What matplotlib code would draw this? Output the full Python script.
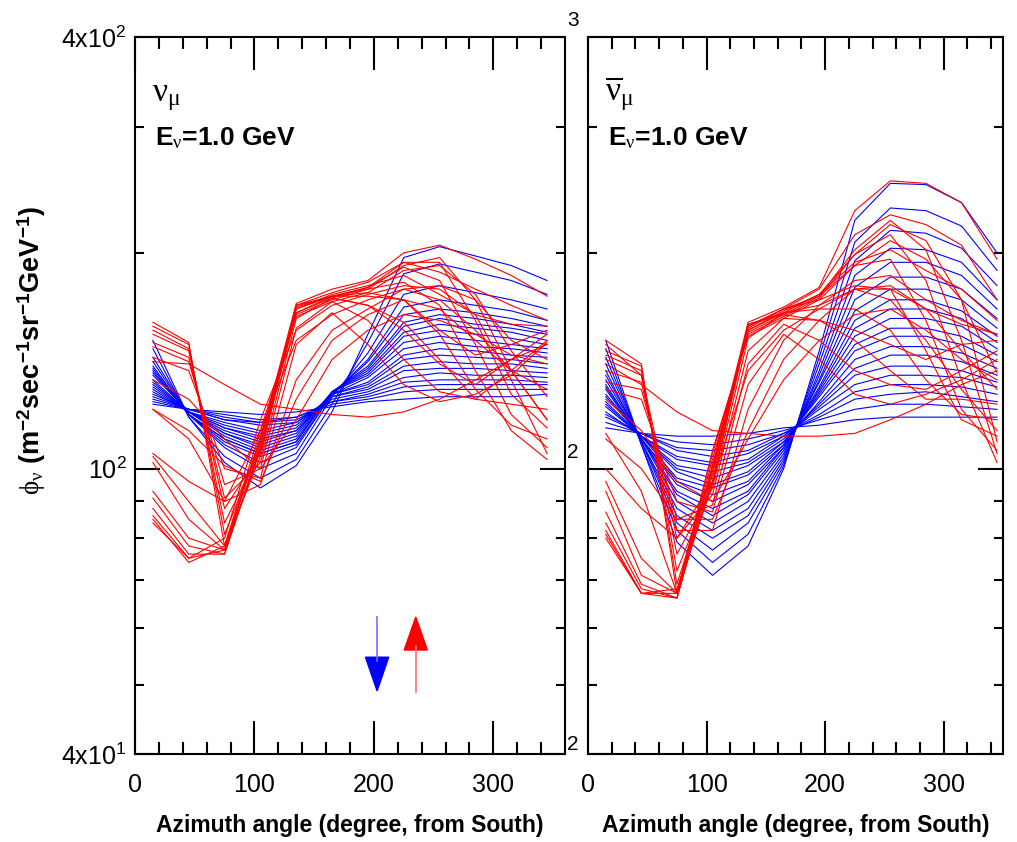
import numpy as np
import matplotlib
matplotlib.use("Agg")
import matplotlib.pyplot as plt
from matplotlib.patches import Polygon
from matplotlib.ticker import FixedLocator, NullFormatter

plt.rcParams['font.family'] = ['Liberation Sans', 'DejaVu Sans']
plt.rcParams['mathtext.fontset'] = 'custom'
plt.rcParams['mathtext.rm'] = 'Liberation Sans'
plt.rcParams['mathtext.bf'] = 'Liberation Sans:bold'
plt.rcParams['mathtext.it'] = 'Liberation Serif'

# Azimuth bin centres (degree, from South)
azimuth = [15, 45, 75, 105, 135, 165, 195, 225, 255, 285, 315, 345]

# nu_mu, downward-going directions (one row per zenith bin)
numu_down = [
    [123, 121, 120, 119, 120, 122, 124, 125, 126, 126, 126, 127],
    [124, 121, 119, 117, 118, 123, 125, 128, 129, 129, 129, 129],
    [125, 121, 118, 116, 118, 124, 126, 130, 131, 131, 131, 131],
    [126, 121, 117, 116, 117, 124, 127, 132, 133, 133, 133, 132],
    [127, 121, 117, 115, 116, 125, 128, 134, 136, 135, 135, 134],
    [128, 120, 116, 113, 116, 126, 129, 137, 138, 138, 137, 136],
    [129, 120, 115, 112, 115, 126, 130, 139, 141, 140, 140, 138],
    [130, 120, 114, 111, 114, 127, 131, 142, 144, 143, 142, 140],
    [131, 120, 114, 110, 113, 127, 132, 144, 147, 146, 144, 143],
    [132, 120, 113, 109, 113, 127, 134, 147, 150, 148, 147, 145],
    [133, 120, 112, 108, 112, 128, 135, 150, 153, 151, 149, 147],
    [135, 120, 112, 107, 111, 128, 136, 153, 156, 154, 152, 149],
    [136, 120, 111, 106, 110, 128, 137, 155, 159, 157, 155, 151],
    [137, 119, 110, 105, 109, 128, 138, 158, 162, 159, 157, 154],
    [138, 119, 110, 105, 109, 128, 139, 160, 164, 162, 159, 155],
    [139, 119, 109, 104, 108, 127, 141, 164, 167, 165, 162, 158],
    [141, 119, 108, 102, 107, 127, 142, 168, 172, 169, 166, 161],
    [143, 119, 107, 100, 105, 126, 145, 175, 180, 176, 172, 167],
    [147, 118, 104, 97, 103, 123, 150, 187, 193, 188, 183, 175],
    [151, 118, 102, 94, 101, 120, 154, 197, 204, 198, 192, 183],
]

# nu_mu, upward-going directions
numu_up = [
    [160, 150, 78, 110, 170, 178, 183, 200, 205, 196, 186, 174],
    [158, 149, 81, 108, 169, 176, 182, 194, 188, 178, 169, 161],
    [156, 147, 84, 106, 167, 175, 180, 186, 175, 164, 159, 158],
    [154, 146, 88, 105, 165, 174, 176, 172, 156, 144, 149, 156],
    [150, 143, 91, 102, 162, 173, 169, 156, 140, 131, 142, 154],
    [148, 141, 95, 100, 157, 171, 161, 142, 128, 125, 137, 151],
    [143, 137, 100, 97, 149, 165, 149, 131, 124, 127, 135, 150],
    [141, 140, 131, 123, 121, 119, 118, 120, 125, 133, 142, 149],
    [121, 110, 90, 95, 133, 156, 167, 178, 180, 172, 151, 142],
    [104, 90, 78, 113, 163, 171, 176, 189, 192, 175, 146, 126],
    [102, 85, 77, 111, 164, 172, 178, 192, 197, 172, 137, 117],
    [93, 80, 77, 110, 165, 173, 179, 194, 194, 161, 127, 114],
    [91, 78, 76, 108, 167, 174, 179, 191, 183, 149, 119, 107],
    [88, 76, 76, 107, 168, 174, 178, 182, 169, 137, 113, 103],
    [86, 75, 77, 106, 169, 174, 174, 172, 154, 129, 115, 110],
    [85, 74, 78, 104, 169, 173, 169, 160, 142, 125, 123, 121],
    [121, 113, 101, 96, 125, 151, 164, 172, 167, 151, 137, 129],
    [133, 125, 110, 100, 117, 142, 156, 164, 161, 154, 144, 140],
    [84, 75, 80, 117, 156, 169, 175, 180, 178, 164, 133, 105],
    [105, 96, 90, 113, 151, 164, 172, 178, 172, 156, 137, 117],
]

# anti-nu_mu, downward-going directions
numubar_down = [
    [114, 112, 111, 111, 112, 114, 115, 117, 118, 118, 118, 118],
    [116, 112, 109, 108, 110, 113, 117, 121, 123, 123, 122, 121],
    [118, 112, 107, 106, 108, 112, 118, 125, 127, 128, 126, 124],
    [119, 112, 106, 104, 106, 112, 119, 128, 131, 131, 130, 127],
    [120, 111, 104, 102, 105, 111, 121, 131, 135, 135, 134, 130],
    [122, 111, 103, 101, 103, 111, 122, 135, 139, 139, 137, 132],
    [123, 111, 101, 99, 102, 110, 123, 138, 144, 144, 141, 135],
    [124, 111, 100, 97, 101, 109, 124, 142, 148, 148, 145, 138],
    [126, 111, 99, 95, 99, 109, 126, 146, 153, 153, 149, 141],
    [127, 111, 97, 94, 98, 108, 127, 149, 157, 157, 153, 144],
    [129, 110, 96, 92, 96, 108, 128, 153, 162, 162, 158, 147],
    [130, 110, 95, 90, 95, 107, 129, 157, 167, 167, 162, 150],
    [131, 110, 93, 88, 93, 107, 130, 161, 172, 172, 166, 153],
    [133, 110, 92, 86, 92, 106, 132, 166, 178, 178, 172, 157],
    [135, 110, 90, 84, 90, 105, 133, 172, 185, 185, 178, 162],
    [137, 109, 88, 82, 88, 104, 135, 179, 194, 194, 186, 167],
    [140, 109, 86, 80, 86, 103, 137, 186, 203, 202, 194, 172],
    [143, 109, 84, 77, 84, 102, 140, 195, 215, 213, 203, 180],
    [147, 108, 82, 74, 81, 101, 143, 207, 231, 229, 218, 189],
    [151, 108, 79, 71, 78, 100, 146, 222, 250, 249, 235, 200],
]

# anti-nu_mu, upward-going directions
numubar_up = [
    [151, 140, 67, 101, 160, 168, 179, 229, 252, 250, 235, 196],
    [146, 139, 69, 99, 158, 167, 178, 212, 226, 219, 205, 172],
    [144, 137, 72, 96, 156, 166, 175, 194, 202, 189, 178, 161],
    [142, 135, 76, 94, 152, 165, 169, 178, 178, 167, 159, 154],
    [137, 132, 80, 92, 146, 162, 161, 156, 149, 142, 149, 151],
    [132, 129, 85, 89, 140, 159, 151, 137, 131, 129, 137, 146],
    [129, 125, 90, 87, 131, 154, 142, 127, 123, 127, 133, 142],
    [140, 131, 120, 113, 112, 111, 111, 112, 117, 123, 131, 137],
    [112, 93, 67, 106, 153, 162, 172, 192, 208, 196, 172, 136],
    [96, 75, 67, 105, 154, 163, 173, 199, 219, 208, 172, 109],
    [93, 71, 67, 103, 155, 164, 174, 202, 222, 202, 151, 105],
    [87, 69, 66, 101, 156, 165, 175, 199, 212, 183, 133, 102],
    [84, 68, 66, 100, 157, 167, 174, 192, 196, 161, 121, 106],
    [82, 67, 66, 98, 158, 167, 172, 180, 178, 146, 117, 111],
    [80, 67, 67, 96, 159, 165, 167, 167, 156, 133, 119, 117],
    [81, 67, 68, 95, 159, 164, 161, 151, 137, 125, 125, 123],
    [110, 100, 85, 85, 113, 142, 161, 178, 180, 167, 146, 129],
    [125, 113, 96, 90, 110, 133, 151, 164, 167, 156, 142, 133],
    [149, 135, 82, 82, 121, 151, 169, 183, 186, 172, 161, 154],
    [100, 88, 80, 96, 137, 156, 167, 178, 172, 151, 129, 113],
]

W, H = 1017, 842
fig = plt.figure(figsize=(W / 100, H / 100), dpi=100)


def add_panel(x0, x1, y0, y1):
    return fig.add_axes([x0 / W, 1 - y1 / H, (x1 - x0) / W, (y1 - y0) / H])


ax1 = add_panel(135, 565, 37, 754)
ax2 = add_panel(588, 1003, 37, 754)

panels = [
    (ax1, numu_down, numu_up, 360, r'$\nu_\mu$'),
    (ax2, numubar_down, numubar_up, 350, r'$\overline{\nu}_\mu$'),
]

for ax, down, up, xmax, flavour in panels:
    for row in down:
        ax.plot(azimuth, row, color='blue', lw=0.8)
    for row in up:
        ax.plot(azimuth, row, color='red', lw=0.8)

    ax.set_yscale('log')
    ax.set_ylim(40, 400)
    ax.set_xlim(0, xmax)

    ax.xaxis.set_major_locator(FixedLocator([0, 100, 200, 300]))
    ax.xaxis.set_minor_locator(FixedLocator(np.arange(20, xmax, 20)))
    ax.yaxis.set_major_locator(FixedLocator([40, 100, 400]))
    ax.yaxis.set_minor_locator(FixedLocator([50, 60, 70, 80, 90, 200, 300]))
    ax.yaxis.set_minor_formatter(NullFormatter())

    ax.tick_params(which='both', direction='in', top=True, right=True,
                   width=1.5, color='black', labelsize=18)
    ax.tick_params(axis='x', which='major', length=24, pad=14)
    ax.tick_params(axis='x', which='minor', length=8.5)
    ax.tick_params(axis='y', which='major', length=18, pad=6)
    ax.tick_params(axis='y', which='minor', length=6.5)
    for s in ax.spines.values():
        s.set_linewidth(1.5)

    ax.set_xlabel('Azimuth angle (degree, from South)', fontsize=16.5,
                  fontweight='bold', labelpad=12)

    ax.text(0.04, 0.911, flavour, transform=ax.transAxes, fontsize=24,
            va='baseline', ha='left')
    ax.text(0.047, 0.849, r'E$_\nu$=1.0 GeV', transform=ax.transAxes,
            fontsize=19, fontweight='bold', va='baseline', ha='left')

ax1.set_yticklabels([r'$\mathrm{4x10^{1}}$', r'$\mathrm{10^{2}}$',
                     r'$\mathrm{4x10^{2}}$'])
ax2.tick_params(axis='y', labelleft=False)

fig.text(32 / W, 1 - 350 / H,
         r'$\phi_\nu$ (m$^{\mathbf{-2}}$sec$^{\mathbf{-1}}$sr$^{\mathbf{-1}}$'
         r'GeV$^{\mathbf{-1}}$)',
         rotation=90, fontsize=19.5, fontweight='bold',
         ha='center', va='center')

# exponents peeking out beside the left frame
for y, s in [(21, '3'), (453, '2'), (744, '2')]:
    fig.text(567 / W, 1 - y / H, s, fontsize=15, ha='left', va='center')

# down (blue) and up (red) direction arrows
ax1.plot([0.563, 0.563], [0.191, 0.13], color='#7070ff', lw=1.2,
         transform=ax1.transAxes)
ax1.add_patch(Polygon([[0.536, 0.135], [0.590, 0.135], [0.563, 0.088]],
                      closed=True, color='blue', transform=ax1.transAxes))
ax1.plot([0.653, 0.653], [0.086, 0.15], color='#ff7070', lw=1.2,
         transform=ax1.transAxes)
ax1.add_patch(Polygon([[0.626, 0.145], [0.680, 0.145], [0.653, 0.191]],
                      closed=True, color='red', transform=ax1.transAxes))

fig.savefig('out.png', dpi=100)
